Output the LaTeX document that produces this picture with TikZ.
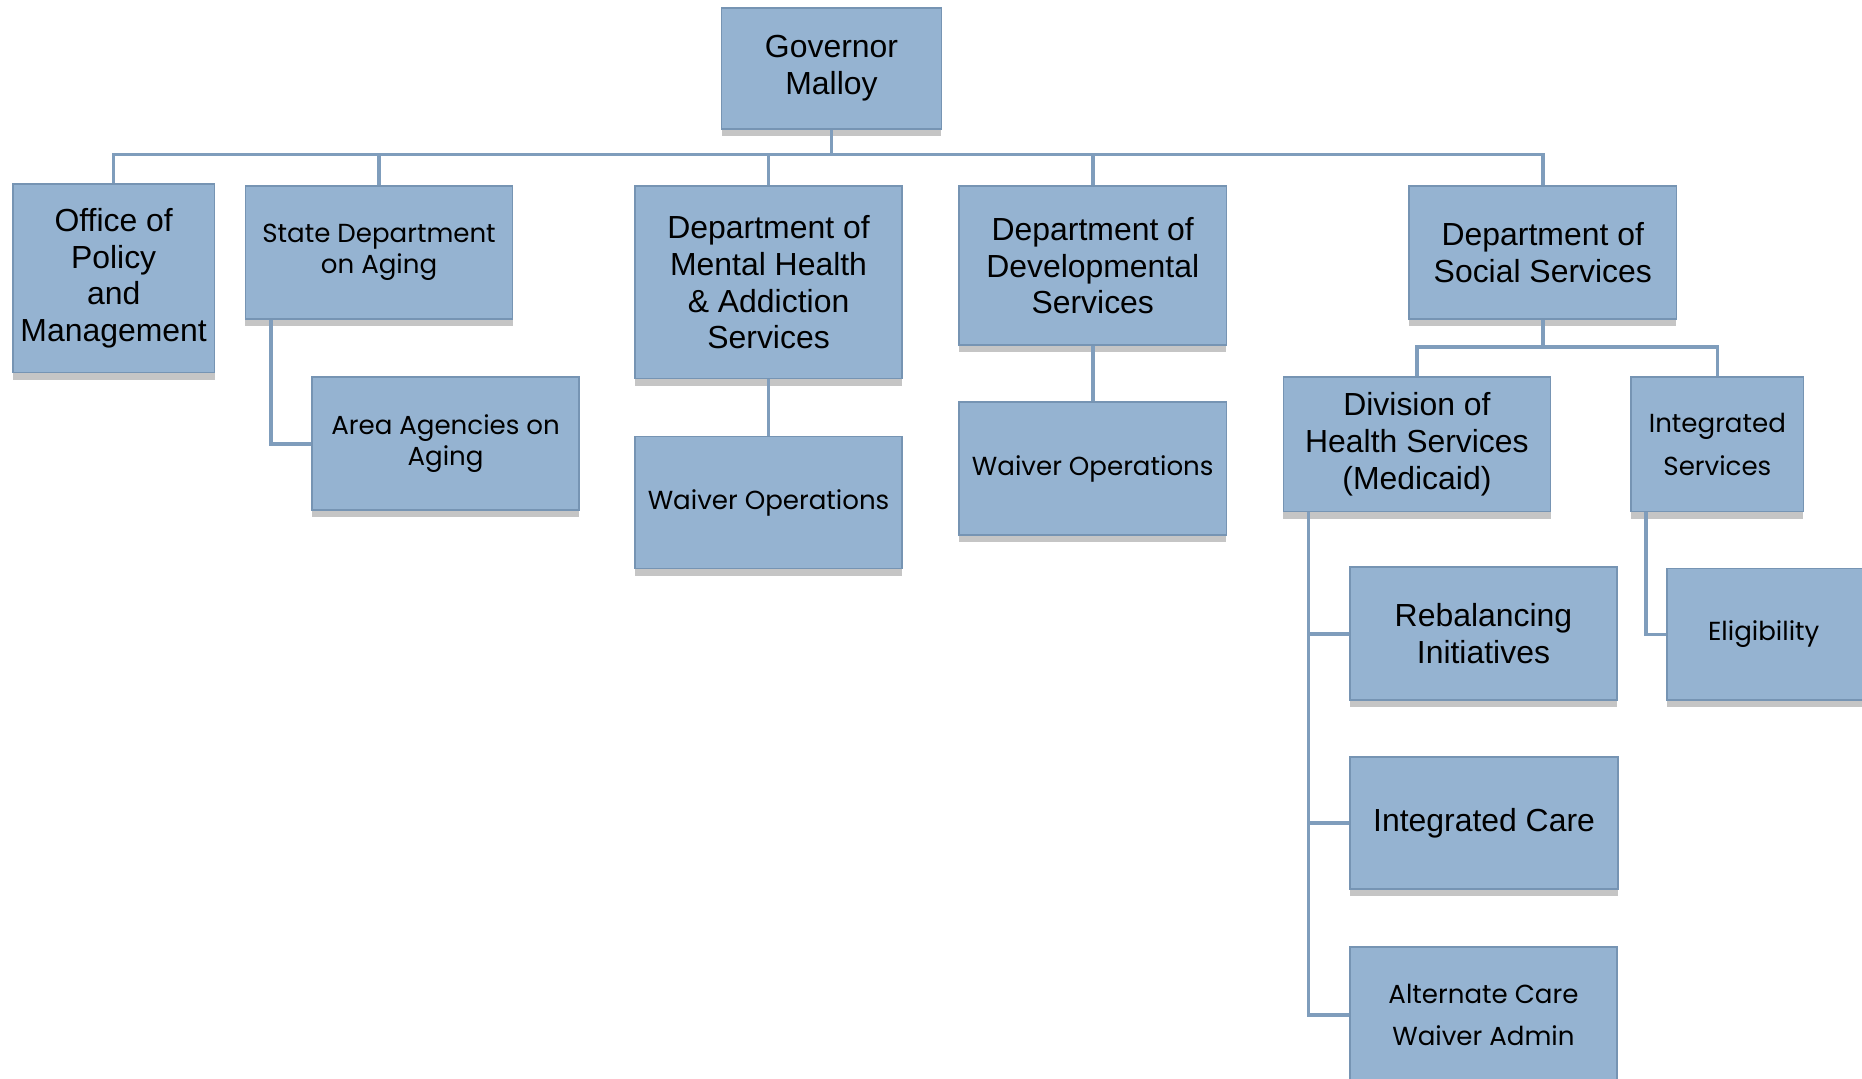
\documentclass[tikz,border=0pt]{standalone}
\usepackage{fontspec}
\setmainfont{Liberation Sans}
\newfontfamily\geo{Poppins}
\usetikzlibrary{shadows,calc}
\definecolor{boxfill}{HTML}{95B3D1}
\definecolor{boxline}{HTML}{7694B3}
\definecolor{connline}{HTML}{7F9DBC}
\tikzset{
  orgbox/.style={rectangle, fill=boxfill, draw=boxline, line width=0.8pt, inner sep=1pt, align=center,
    drop shadow={shadow xshift=0pt, shadow yshift=-0.12cm, opacity=0.3, fill=black!75}},
  arialtxt/.style={font=\fontsize{15.3}{17.6}\selectfont},
  geotxt/.style={font=\geo\fontsize{12.5}{14.7}\selectfont},
  geowide/.style={font=\geo\fontsize{12.5}{20.6}\selectfont},
  conn/.style={draw=connline, line width=1.7pt}
}
\newcommand\orgnode[7]{%
  \node[orgbox,#7, anchor=north west, minimum width={(#4-#2)*0.02cm}, minimum height={(#5-#3)*0.02cm}] (#1) at (#2,#3) {#6};}
\begin{document}
\begin{tikzpicture}[x=0.02cm,y=-0.02cm]
\useasboundingbox (0,0) rectangle (1568,908.6);
% top
\orgnode{gov}{607}{6}{792}{108}{Governor\\Malloy}{arialtxt}
% level 1
\orgnode{opm}{10}{154}{180}{313}{Office of\\Policy\\and\\Management}{arialtxt}
\orgnode{sda}{206}{156}{431}{268}{State Department\\on Aging}{geotxt}
\orgnode{dmh}{534}{156}{759}{318}{Department of\\Mental Health\\\& Addiction\\Services}{arialtxt}
\orgnode{dds}{807}{156}{1032}{290}{Department of\\Developmental\\Services}{arialtxt}
\orgnode{dss}{1186}{156}{1411}{268}{Department of\\Social Services}{arialtxt}
% level 2
\orgnode{aaa}{262}{317}{487}{429}{Area Agencies on\\Aging}{geotxt}
\orgnode{wo1}{534}{367}{759}{478}{Waiver Operations}{geotxt}
\orgnode{wo2}{807}{338}{1032}{450}{Waiver Operations}{geotxt}
\orgnode{dhs}{1080}{317}{1305}{430}{Division of\\Health Services\\(Medicaid)}{arialtxt}
\orgnode{ints}{1373}{317}{1518}{430}{Integrated\\Services}{geowide}
% level 3
\orgnode{reb}{1136}{477}{1361}{589}{Rebalancing\\Initiatives}{arialtxt}
\orgnode{icare}{1136}{637}{1362}{748}{Integrated Care}{arialtxt}
\orgnode{alt}{1136}{797}{1361}{911}{Alternate Care\\Waiver Admin}{geowide}
\orgnode{elig}{1403}{478}{1571}{589}{\hspace*{-0.1cm}Eligibility}{geotxt}
% connectors
\coordinate (busL) at (95,130);
\draw[conn] (gov.south) -- (gov.south |- busL);
\draw[conn] (opm.north) |- (dss.north |- busL) -- (dss.north);
\draw[conn] (sda.north) -- (sda.north |- busL);
\draw[conn] (dmh.north) -- (dmh.north |- busL);
\draw[conn] (dds.north) -- (dds.north |- busL);
\draw[conn] ($(sda.south west)+(22,0)$) |- (aaa.west);
\draw[conn] (dmh.south) -- (wo1.north);
\draw[conn] (dds.south) -- (wo2.north);
\draw[conn] (dss.south) -- ++(0,23) coordinate (dssb);
\draw[conn] (dhs.north) |- (dssb) -| (ints.north);
\coordinate (dv) at ($(dhs.south west)+(22,0)$);
\draw[conn] (dv) |- (alt.west);
\draw[conn] (reb.west) -- (reb.west -| dv);
\draw[conn] (icare.west) -- (icare.west -| dv);
\draw[conn] ($(ints.south west)+(13,0)$) |- (elig.west);
\end{tikzpicture}
\end{document}
